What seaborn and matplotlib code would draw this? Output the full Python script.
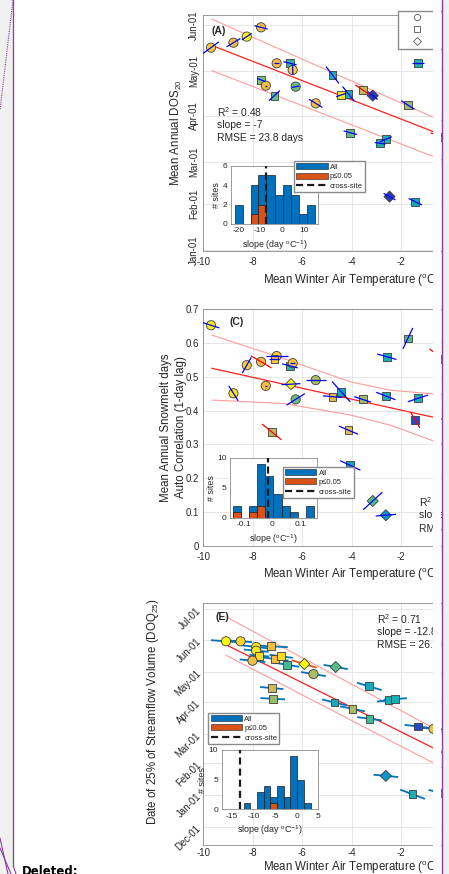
import numpy as np
import pandas as pd
import matplotlib
matplotlib.use("Agg")
import matplotlib.pyplot as plt
import seaborn as sns
from matplotlib.colors import LinearSegmentedColormap
from matplotlib.patches import Patch, Rectangle
from matplotlib.lines import Line2D

# ======================= DATA =======================
# ---- Panel A : Mean annual DOS20 (day of year) ----
A_temp = [-9.69, -8.78, -8.24, -7.66, -7.03, -6.49, -6.38, -7.66, -7.47, -7.12, -6.26, -5.45, -4.77,
          -4.42, -4.12, -3.55, -3.14, -1.72, -1.31, -4.05, -2.61, -2.84, -2.46, -1.42, -0.25]
A_dos = [136.8, 140.1, 144.2, 150.4, 126.3, 126.3, 121.8, 115.1, 111.3, 104.6, 110.6, 99.4, 118.4,
         105.0, 105.7, 108.4, 104.6, 98.3, 126.7, 79.7, 75.3, 72.6, 36.8, 33.4, 77.0]
A_cval = [0.90, 0.85, 1.00, 0.85, 0.85, 0.50, 0.90, 0.65, 0.85, 0.60, 0.62, 0.88, 0.45,
          0.95, 0.45, 0.75, 0.05, 0.70, 0.45, 0.60, 0.45, 0.45, 0.05, 0.42, 0.45]
A_shape = ['circle', 'circle', 'circle', 'circle', 'circle', 'square', 'circle', 'square', 'circle',
           'square', 'circle', 'circle', 'square', 'square', 'square', 'square', 'diamond', 'square',
           'square', 'square', 'square', 'square', 'diamond', 'square', 'square']
A_seg_dT = [0.32, 0.28, 0.20, 0.27, 0.10, 0.27, 0.01, 0.17, 0.05, 0.22, 0.15, 0.27, 0.26,
            0.20, 0.24, 0.30, 0.20, 0.27, 0.24, 0.27, 0.24, 0.22, 0.24, 0.27, 0.55]
A_seg_dY = [3.9, 2.8, 2.2, -1.1, 0.0, -1.1, -3.4, -1.1, 0.0, 3.4, 0.5, -2.8, -5.6,
            1.1, -5.0, -3.4, -2.6, -2.9, 0.0, -1.2, 1.7, -0.5, -2.2, -2.2, -2.5]
A_sig = [0, 0, 0, 0, 0, 0, 0, 0, 0, 0, 0, 0, 0, 0, 0, 1, 0, 0, 0, 0, 0, 0, 0, 0, 1]
A_fit_x = [-9.66, -0.3]
A_fit_y = [138.3, 77.9]
A_up_x = [-9.66, -0.3]
A_up_y = [156.0, 87.2]
A_lo_x = [-9.66, -0.3]
A_lo_y = [121.4, 61.2]
A_stats = ['R$^2$ = 0.48', 'slope = -7', 'RMSE = 23.8 days']
A_ytick_days = [1, 32, 60, 91, 121, 152]
A_ytick_labels = ['Jan-01', 'Feb-01', 'Mar-01', 'Apr-01', 'May-01', 'Jun-01']
A_hist_edges = [-21.5, -18.0, -14.4, -10.9, -7.3, -3.5, 0.15, 3.8, 7.6, 11.2, 14.8]
A_hist_all = [2, 0, 4, 5, 5, 3, 4, 3, 1, 2]
A_hist_sig = [0, 0, 1, 2, 0, 0, 0, 0, 0, 0]
A_cross = -7.6

# ---- Panel C : snowmelt days autocorrelation ----
C_temp = [-9.69, -8.24, -7.66, -7.03, -7.12, -6.49, -6.38, -7.47, -6.45, -5.45, -8.78, -6.26, -4.77,
          -4.42, -3.55, -2.61, -1.31, -2.57, -1.72, -1.42, -7.23, -4.12, -4.05, -3.14, -2.61, -0.30]
C_acf = [0.652, 0.534, 0.544, 0.561, 0.552, 0.532, 0.540, 0.473, 0.478, 0.490, 0.451, 0.433, 0.441,
         0.456, 0.433, 0.443, 0.436, 0.559, 0.613, 0.372, 0.337, 0.342, 0.238, 0.133, 0.091, 0.552]
C_cval = [0.98, 0.90, 0.85, 0.90, 0.88, 0.50, 0.88, 0.85, 1.00, 0.72, 0.95, 0.62, 0.82,
          0.42, 0.70, 0.45, 0.45, 0.45, 0.58, 0.08, 0.75, 0.82, 0.40, 0.58, 0.33, 0.45]
C_shape = ['circle', 'circle', 'circle', 'circle', 'square', 'square', 'circle', 'circle', 'diamond',
           'circle', 'circle', 'circle', 'square', 'square', 'square', 'square', 'square', 'square',
           'square', 'square', 'square', 'square', 'square', 'diamond', 'diamond', 'square']
C_seg_dT = [0.34, 0.18, 0.42, 0.44, 0.20, 0.32, 0.10, 0.05, 0.38, 0.40, 0.19, 0.37, 0.39,
            0.37, 0.34, 0.39, 0.41, 0.39, 0.20, 0.19, 0.39, 0.39, 0.41, 0.39, 0.41, 0.54]
C_seg_dY = [-0.008, 0.023, -0.018, 0.0, 0.0, -0.006, 0.0, 0.0, 0.0015, 0.0, -0.022, 0.017, -0.0025,
            -0.030, -0.008, -0.011, 0.010, -0.008, 0.031, -0.023, -0.023, -0.012, -0.014, 0.026, 0.0025, -0.030]
C_sig = [0, 0, 1, 0, 0, 0, 0, 0, 0, 0, 0, 0, 0, 0, 0, 0, 0, 0, 0, 1, 1, 0, 0, 0, 0, 1]
C_fit_x = [-9.66, -0.3]
C_fit_y = [0.525, 0.374]
C_up_x = [-9.66, -6.76, -4.05, -2.43, -0.3]
C_up_y = [0.623, 0.554, 0.485, 0.460, 0.447]
C_lo_x = [-9.66, -6.76, -4.05, -2.43, -0.3]
C_lo_y = [0.431, 0.421, 0.387, 0.357, 0.300]
C_stats = ['R$^2$ = ', 'slope = ', 'RMSE = ']
C_yticks = [0, 0.1, 0.2, 0.3, 0.4, 0.5, 0.6, 0.7]
C_hist_edges = [-0.138, -0.1095, -0.081, -0.0525, -0.024, 0.0045, 0.033, 0.0615, 0.090, 0.1185, 0.147]
C_hist_all = [2, 0, 2, 9, 7, 4, 2, 1, 0, 2]
C_hist_sig = [1, 0, 1, 2, 0, 0, 0, 0, 0, 0]
C_cross = -0.016

# ---- Panel E : date of 25% streamflow volume ----
E_temp = [-9.08, -8.49, -7.86, -7.26, -7.86, -7.73, -7.09, -6.85, -8.01, -6.62, -5.91, -4.64, -5.54,
          -7.23, -7.19, -4.69, -3.96, -3.27, -3.28, -2.50, -2.23, -1.31, -0.68, -2.61, -1.53, -0.38]
E_doq = [150.4, 150.4, 144.9, 145.5, 141.3, 136.4, 133.2, 135.8, 131.5, 127.6, 128.3, 125.4, 118.5,
         104.9, 94.5, 90.9, 84.7, 75.0, 106.5, 92.9, 94.2, 67.5, 65.2, 19.4, 1.5, 2.75]
E_cval = [1.00, 0.92, 0.97, 0.85, 0.95, 0.93, 0.85, 0.93, 0.85, 0.55, 1.00, 0.58, 0.72,
          0.78, 0.68, 0.42, 0.72, 0.55, 0.42, 0.45, 0.45, 0.08, 0.85, 0.33, 0.45, 0.45]
E_shape = ['circle', 'circle', 'circle', 'square', 'circle', 'square', 'square', 'square', 'circle',
           'square', 'diamond', 'diamond', 'circle', 'square', 'square', 'square', 'square', 'square',
           'square', 'square', 'square', 'square', 'circle', 'diamond', 'square', 'square']
E_seg_dT = [0.61, 0.47, 0.57, 0.68, 0.50, 0.40, 0.54, 0.47, 0.52, 0.50, 0.50, 0.49, 0.50,
            0.47, 0.50, 0.50, 0.50, 0.50, 0.50, 0.47, 0.47, 0.54, 0.50, 0.50, 0.50, 0.50]
E_seg_dY = [-1.1, -0.8, -1.6, -0.8, -1.1, -0.8, -1.6, -1.5, -1.3, -2.0, -3.6, -2.1, -2.0,
            -1.0, -0.65, -2.9, -2.4, -1.6, -3.6, 1.1, 0.8, -1.6, -1.0, -1.1, -4.5, -3.0]
E_sig = [0, 0, 0, 0, 0, 0, 0, 0, 0, 0, 1, 0, 0, 0, 0, 0, 0, 0, 0, 0, 0, 0, 0, 0, 0, 0]
E_fit_x = [-9.08, -0.3]
E_fit_y = [147.0, 41.9]
E_up_x = [-9.08, -0.3]
E_up_y = [174.2, 61.0]
E_lo_x = [-9.08, -0.3]
E_lo_y = [136.8, 27.1]
E_stats = ['R$^2$ = 0.71', 'slope = -12.8', 'RMSE = 26.9 days']
E_ytick_days = [-30, 1, 32, 60, 91, 121, 152, 182]
E_ytick_labels = ['Dec-01', 'Jan-01', 'Feb-01', 'Mar-01', 'Apr-01', 'May-01', 'Jun-01', 'Jul-01']
E_hist_edges = [-12.2, -10.66, -9.12, -7.58, -6.04, -4.5, -2.96, -1.42, 0.12, 1.66, 3.2]
E_hist_all = [1, 0, 3, 4, 2, 4, 2, 9, 5, 1]
E_hist_sig = [0, 0, 0, 0, 1, 0, 0, 0, 0, 0]
E_cross = -13.1

X_ticks = [-10, -8, -6, -4, -2, 0, 2]
LEGEND_LABELS = ['All', 'p\u22640.05', 'cross-site']

# ======================= STYLE =======================
sns.set_theme(style="white")
plt.rcParams['font.family'] = ['Liberation Sans', 'DejaVu Sans']
plt.rcParams['mathtext.default'] = 'regular'
plt.rcParams['axes.unicode_minus'] = False

parula = LinearSegmentedColormap.from_list('parula', [
    (0.00, (0.208, 0.166, 0.529)),
    (0.12, (0.100, 0.360, 0.900)),
    (0.25, (0.070, 0.510, 0.860)),
    (0.37, (0.030, 0.630, 0.780)),
    (0.50, (0.150, 0.720, 0.640)),
    (0.62, (0.430, 0.750, 0.490)),
    (0.75, (0.750, 0.730, 0.360)),
    (0.87, (0.990, 0.740, 0.240)),
    (1.00, (0.976, 0.983, 0.054))])
MARKERS = {'circle': 'o', 'square': 's', 'diamond': 'D'}
SIZES = {'circle': 44, 'square': 32, 'diamond': 32}
M_BLUE = '#0072BD'
M_ORANGE = '#D95319'
TXT = '#262626'
SPINE = '#8a8a8a'
LABEL_FS = 8.3

W, H = 449, 874
fig = plt.figure(figsize=(W / 100, H / 100), dpi=100)
fig.patch.set_facecolor('white')


def fx(px):
    return px / W


def fy(py):
    return 1 - py / H


AX_L, AX_R = 203.3, 499.7


def main_axes(top, bottom):
    return fig.add_axes([fx(AX_L), fy(bottom), (AX_R - AX_L) / W, (bottom - top) / H])


axA = main_axes(15, 250.7)
axC = main_axes(309, 546)
axE = main_axes(603, 845)


def style_main(ax, pad_x=4.5):
    ax.set_xlim(-10, 2)
    ax.set_xticks(X_ticks)
    ax.grid(True, color='#e2e2e2', lw=0.6)
    ax.set_axisbelow(True)
    for s in ax.spines.values():
        s.set_color(SPINE)
        s.set_linewidth(0.6)
    ax.tick_params(direction='in', length=3, width=0.5, color='#666666',
                   labelsize=6.9, labelcolor=TXT, pad=3)
    ax.tick_params(axis='x', pad=pad_x)


def scatter_panel(ax, temp, val, cval, shape, dT, dY, sig, seg_cols, seg_lw, seg_z):
    df = pd.DataFrame({'temp': temp, 'val': val, 'c': cval, 'shape': shape})
    sns.scatterplot(data=df, x='temp', y='val', hue='c', palette=parula, hue_norm=(0, 1),
                    style='shape', markers=MARKERS, size='shape', sizes=SIZES,
                    edgecolor='#3c3c3c', linewidth=0.6, legend=False, ax=ax, zorder=3)
    for t, v, a, b, s in zip(temp, val, dT, dY, sig):
        ax.plot([t - a, t + a], [v - b, v + b], color=seg_cols[s], lw=seg_lw,
                zorder=seg_z, solid_capstyle='butt')


def reg_lines(ax, fx_, fy_, ux, uy, lx, ly):
    ax.plot(ux, uy, color='#ff9c9c', lw=0.8, zorder=2.5)
    ax.plot(lx, ly, color='#ff9c9c', lw=0.8, zorder=2.5)
    ax.plot(fx_, fy_, color='#ff2020', lw=0.9, zorder=2.6)


XLABEL = 'Mean Winter Air Temperature ($^{o}$C)'

# ---- Panel A ----
scatter_panel(axA, A_temp, A_dos, A_cval, A_shape, A_seg_dT, A_seg_dY, A_sig,
              ['#0000ff', '#ff0000'], 0.9, 4)
reg_lines(axA, A_fit_x, A_fit_y, A_up_x, A_up_y, A_lo_x, A_lo_y)
style_main(axA)
axA.set_ylim(0.5, 158.7)
axA.set_yticks(A_ytick_days, A_ytick_labels)
for lab in axA.get_yticklabels():
    lab.set_rotation(90)
    lab.set_ha('center')
    lab.set_va('bottom')
    lab.set_rotation_mode('anchor')
axA.set_ylabel('Mean Annual DOS$_{20}$', fontsize=LABEL_FS, color=TXT)
axA.yaxis.set_label_coords(-0.066, 0.5)
axA.set_xlabel(XLABEL, fontsize=LABEL_FS, color=TXT)
axA.xaxis.set_label_coords(0.5, -0.093)
axA.text(0.026, 0.933, '(A)', transform=axA.transAxes, fontsize=7.6, fontweight='bold',
         color=TXT, va='center', ha='left')
for i, s in enumerate(A_stats):
    axA.text(0.045, 0.59 - i * 0.0565, s, transform=axA.transAxes, fontsize=7.4, color=TXT,
             va='center', ha='left')

# ---- Panel C ----
scatter_panel(axC, C_temp, C_acf, C_cval, C_shape, C_seg_dT, C_seg_dY, C_sig,
              ['#0000ff', '#ff0000'], 0.9, 4)
reg_lines(axC, C_fit_x, C_fit_y, C_up_x, C_up_y, C_lo_x, C_lo_y)
style_main(axC)
axC.set_ylim(0, 0.7)
axC.set_yticks(C_yticks, [f'{v:g}' for v in C_yticks])
axC.set_ylabel('Mean Annual Snowmelt days\nAuto Correlation (1-day lag)', fontsize=LABEL_FS,
               color=TXT, linespacing=1.3)
axC.yaxis.set_label_coords(-0.056, 0.5)
axC.set_xlabel(XLABEL, fontsize=LABEL_FS, color=TXT)
axC.xaxis.set_label_coords(0.5, -0.086)
axC.text(0.09, 0.946, '(C)', transform=axC.transAxes, fontsize=7.6, fontweight='bold',
         color=TXT, va='center', ha='left')
for i, s in enumerate(C_stats):
    axC.text(0.728, 0.187 - i * 0.058, s, transform=axC.transAxes, fontsize=7.4, color=TXT,
             va='center', ha='left')

# ---- Panel E ----
scatter_panel(axE, E_temp, E_doq, E_cval, E_shape, E_seg_dT, E_seg_dY, E_sig,
              [M_BLUE, M_ORANGE], 1.3, 2.8)
reg_lines(axE, E_fit_x, E_fit_y, E_up_x, E_up_y, E_lo_x, E_lo_y)
style_main(axE, pad_x=2.5)
axE.set_ylim(-47.9, 187.7)
axE.set_yticks(E_ytick_days, E_ytick_labels)
for lab in axE.get_yticklabels():
    lab.set_rotation(45)
    lab.set_ha('right')
    lab.set_va('center')
    lab.set_rotation_mode('anchor')
axE.set_ylabel('Date of 25% of Streamflow Volume (DOQ$_{25}$)', fontsize=LABEL_FS, color=TXT)
axE.yaxis.set_label_coords(-0.142, 0.55)
axE.set_xlabel(XLABEL, fontsize=LABEL_FS, color=TXT)
axE.xaxis.set_label_coords(0.5, -0.06)
axE.text(0.04, 0.942, '(E)', transform=axE.transAxes, fontsize=7.6, fontweight='bold',
         color=TXT, va='center', ha='left')
for i, s in enumerate(E_stats):
    axE.text(0.585, 0.933 - i * 0.053, s, transform=axE.transAxes, fontsize=7.4, color=TXT,
             va='center', ha='left')

# ---- marker-type legend (panel A, mostly cut off) ----
shape_handles = [Line2D([], [], marker=MARKERS[k], ls='none', mfc='white', mec='#555555',
                        ms=4.6 if k != 'diamond' else 4.0, mew=0.6) for k in ['circle', 'square', 'diamond']]
fig.legend(shape_handles, ['      ', '      ', '      '], loc='upper left',
           bbox_to_anchor=(fx(398.3), fy(10.7)), borderaxespad=0, fontsize=6.5,
           handlelength=3.6, borderpad=0.25, labelspacing=0.35, handletextpad=0.8,
           frameon=True, fancybox=False, edgecolor='#8a8a8a', framealpha=1)


# ======================= INSETS =======================
def inset(left, right, top, bottom, edges, all_c, sig_c, cross, xlim, ylim, xticks, yticks,
          xtlabels, xlabel, leg_xy):
    ax = fig.add_axes([fx(left), fy(bottom), (right - left) / W, (bottom - top) / H])
    edges = [float(e) for e in edges]
    centers = [(a + b) / 2 for a, b in zip(edges[:-1], edges[1:])]
    hdf = pd.DataFrame({'slope': centers, 'all': [float(v) for v in all_c],
                        'sig': [float(v) for v in sig_c]})
    sns.histplot(data=hdf, x='slope', weights='all', bins=edges, color=M_BLUE, alpha=1,
                 edgecolor='#1e1e1e', linewidth=0.5, ax=ax)
    sns.histplot(data=hdf, x='slope', weights='sig', bins=edges, color=M_ORANGE, alpha=1,
                 edgecolor='#1e1e1e', linewidth=0.5, ax=ax)
    ax.axvline(cross, color='k', ls=(0, (3.2, 1.8)), lw=1.6, zorder=5)
    ax.set_xlim(*xlim)
    ax.set_ylim(*ylim)
    ax.set_xticks(xticks, xtlabels)
    ax.set_yticks(yticks)
    ax.set_facecolor('white')
    for s in ax.spines.values():
        s.set_color(SPINE)
        s.set_linewidth(0.6)
    ax.tick_params(direction='in', length=2, width=0.5, color='#666666',
                   labelsize=6, labelcolor=TXT, pad=2.5)
    ax.set_ylabel('# sites', fontsize=6.4, color=TXT, labelpad=1)
    ax.set_xlabel(xlabel, fontsize=6.4, color=TXT, labelpad=2.5)
    handles = [Patch(facecolor=M_BLUE, edgecolor='#1e1e1e', lw=0.4),
               Patch(facecolor=M_ORANGE, edgecolor='#1e1e1e', lw=0.4),
               Line2D([], [], color='k', ls=(0, (3.2, 1.8)), lw=1.6)]
    fig.legend(handles, LEGEND_LABELS, loc='upper left', bbox_to_anchor=(fx(leg_xy[0]), fy(leg_xy[1])),
               borderaxespad=0, fontsize=5.5, handlelength=4.1, handleheight=0.8,
               handletextpad=0.3, borderpad=0.3, labelspacing=0.25, frameon=True,
               fancybox=False, edgecolor='#8a8a8a', framealpha=1)
    return ax


inset(231, 318.3, 165.7, 224, A_hist_edges, A_hist_all, A_hist_sig, A_cross,
      (-23.3, 16.4), (0, 6), [-20, -10, 0, 10], [0, 2, 4, 6], ['-20', '-10', '0', '10'],
      'slope (day $^{o}$C$^{-1}$)', (294, 161))
inset(230, 316.7, 457.7, 518, C_hist_edges, C_hist_all, C_hist_sig, C_cross,
      (-0.149, 0.157), (0, 10), [-0.1, 0, 0.1], [0, 5, 10], ['-0.1', '0', '0.1'],
      'slope ($^{o}$C$^{-1}$)', (282.7, 466.7))
inset(221.7, 318.3, 750, 809.3, E_hist_edges, E_hist_all, E_hist_sig, E_cross,
      (-17.3, 5.0), (0, 10), [-15, -10, -5, 0, 5], [0, 5, 10], ['-15', '-10', '-5', '0', '5'],
      'slope (day $^{o}$C$^{-1}$)', (208.3, 712.7))

# ======================= PAGE DECORATIONS =======================
PURPLE = '#8a3ca6'
fig.add_artist(Rectangle((fx(433), 0), fx(441) - fx(433), 1, transform=fig.transFigure,
                         facecolor='white', edgecolor='none', zorder=50))
fig.add_artist(Rectangle((fx(442), 0), 1, 1, transform=fig.transFigure,
                         facecolor='#f0f0f0', edgecolor='none', zorder=50))
fig.add_artist(Line2D([fx(441.5)] * 2, [0, 1], transform=fig.transFigure, color=PURPLE,
                      lw=1.0, zorder=51))
fig.add_artist(Rectangle((0, 0), fx(13), 1, transform=fig.transFigure,
                         facecolor='#f0f0f0', edgecolor='none', zorder=50))
fig.add_artist(Line2D([fx(13.3)] * 2, [fy(866), 1], transform=fig.transFigure, color=PURPLE,
                      lw=0.9, zorder=51))
fig.add_artist(Line2D([fx(13), fx(0)], [1, fy(110)], transform=fig.transFigure, color=PURPLE,
                      lw=0.8, ls=(0, (1, 1)), zorder=51))
for (x0, y0, x1, y1) in [(0, 838, 8, 874), (0, 848, 11, 874), (13.3, 866, 16, 874)]:
    fig.add_artist(Line2D([fx(x0), fx(x1)], [fy(y0), fy(y1)], transform=fig.transFigure,
                          color=PURPLE, lw=0.8, zorder=51))
fig.text(fx(22), fy(875), 'Deleted:', fontsize=8.5, fontweight='bold', family='DejaVu Sans',
         color='black', ha='left', va='baseline', zorder=52)

fig.savefig('out.png', dpi=100, facecolor='white')
